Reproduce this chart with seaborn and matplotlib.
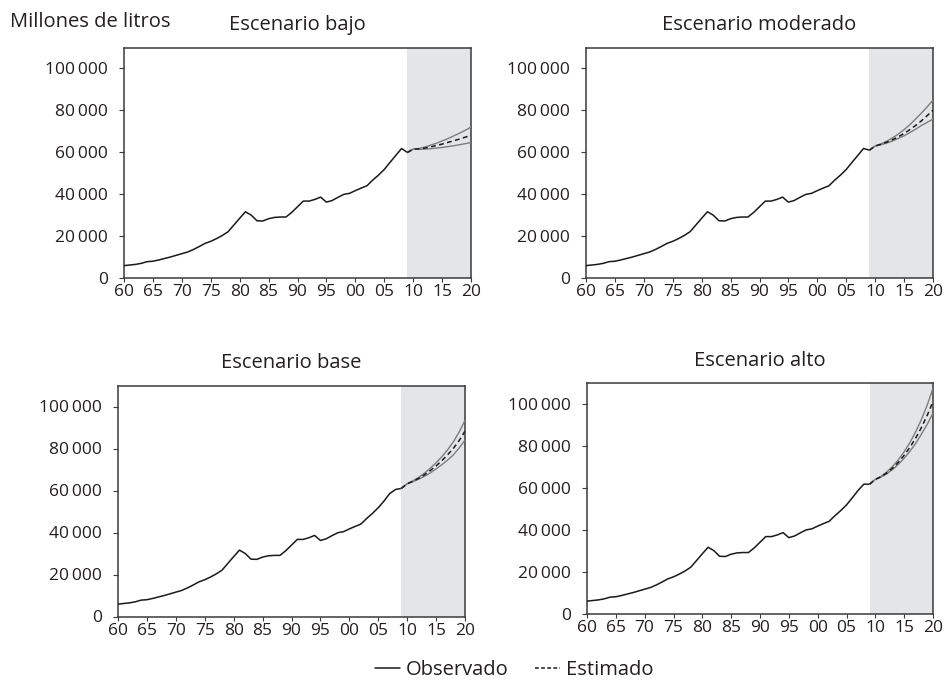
import numpy as np
import pandas as pd
import matplotlib
matplotlib.use("Agg")
import matplotlib.pyplot as plt
from matplotlib.lines import Line2D
import seaborn as sns

# ---------------- data ----------------
years_obs = list(range(1960, 2006))
observado = [5900, 6200, 6500, 7000, 7800, 8000, 8600, 9300, 10000, 10800,
             11600, 12400, 13600, 15000, 16500, 17500, 18800, 20300, 22100, 25300,
             28500, 31600, 30000, 27300, 27200, 28300, 28900, 29100, 29100, 31300,
             34000, 36700, 36700, 37500, 38600, 36200, 37000, 38500, 39900, 40400,
             41700, 42900, 44000, 46700, 49100, 51800]
years_tail = [2006, 2007, 2008, 2009]
tail_bajo = [55200, 58500, 61800, 59900]
tail_moderado = [55200, 58500, 61800, 61000]
tail_base = [55000, 58600, 60500, 61000]
tail_alto = [55200, 58700, 61700, 61700]

years_proj = list(range(2010, 2021))
bajo_sup = [61500, 61800, 62500, 63400, 64300, 65400, 66500, 67800, 69100, 70500, 72000]
bajo_med = [61500, 61600, 62000, 62600, 63200, 63900, 64700, 65500, 66300, 67200, 68100]
bajo_inf = [61500, 61400, 61500, 61700, 62000, 62300, 62700, 63100, 63600, 64100, 64700]

moderado_sup = [63000, 64000, 65300, 66900, 68700, 70800, 73200, 75900, 78700, 81700, 84900]
moderado_med = [63000, 63800, 64800, 66000, 67400, 69000, 70800, 72800, 75000, 77500, 80100]
moderado_inf = [63000, 63600, 64400, 65400, 66600, 67900, 69400, 71000, 72800, 74300, 75800]

base_sup = [63200, 64600, 66300, 68300, 70600, 73200, 76100, 79400, 83200, 87900, 93400]
base_med = [63200, 64400, 65800, 67500, 69500, 71700, 74200, 77000, 80100, 83800, 88300]
base_inf = [63200, 64200, 65400, 66800, 68400, 70300, 72300, 74500, 77000, 80300, 84000]

alto_sup = [64000, 65500, 67600, 70200, 73400, 77200, 81600, 86700, 92600, 99500, 107500]
alto_med = [64000, 65300, 67100, 69400, 72200, 75500, 79300, 83700, 88800, 94600, 101100]
alto_inf = [64000, 65100, 66700, 68700, 71200, 74100, 77400, 81200, 85600, 90300, 95600]

titles = ["Escenario bajo", "Escenario moderado", "Escenario base", "Escenario alto"]
xticks = list(range(1960, 2021, 5))
xticklabels = ["60", "65", "70", "75", "80", "85", "90", "95", "00", "05", "10", "15", "20"]
yticks = [0, 20000, 40000, 60000, 80000, 100000]
yticklabels = ["0", "20\u2009000", "40\u2009000", "60\u2009000", "80\u2009000", "100\u2009000"]

# ---------------- style ----------------
sns.set_style("white")
plt.rcParams["font.family"] = ["Open Sans", "DejaVu Sans"]
plt.rcParams["axes.edgecolor"] = "#3a3a3a"
plt.rcParams["text.color"] = "#231f20"
plt.rcParams["xtick.color"] = "#3a3a3a"
plt.rcParams["ytick.color"] = "#3a3a3a"
plt.rcParams["xtick.labelcolor"] = "#231f20"
plt.rcParams["ytick.labelcolor"] = "#231f20"

W, H = 946, 683
fig = plt.figure(figsize=(W / 100, H / 100), dpi=100)

# pixel boxes: left, right, top, bottom
boxes = [(124, 471, 47.5, 278),
         (586, 933, 47.5, 278),
         (118, 465, 385.5, 616.5),
         (587, 933, 383, 613.5)]
tails = [tail_bajo, tail_moderado, tail_base, tail_alto]
projs = [(bajo_sup, bajo_med, bajo_inf), (moderado_sup, moderado_med, moderado_inf),
         (base_sup, base_med, base_inf), (alto_sup, alto_med, alto_inf)]

for i, (l, r, t, b) in enumerate(boxes):
    ax = fig.add_axes([l / W, 1 - b / H, (r - l) / W, (b - t) / H])
    ax.axvspan(2009, 2020, color="#e4e5e6", lw=0, zorder=0)
    obs_df = pd.DataFrame({"year": years_obs + years_tail,
                           "val": observado + tails[i]})
    sns.lineplot(data=obs_df, x="year", y="val", ax=ax, color="#1a1a1a", lw=1.1, zorder=3)
    sup, med, inf = projs[i]
    yrs = [2009] + years_proj
    for series, col, ls, lw in [(sup, "#7d7d7d", "-", 1.0), (inf, "#7d7d7d", "-", 1.0),
                                (med, "#1a1a1a", (0, (3.2, 2.2)), 1.1)]:
        df = pd.DataFrame({"year": yrs, "val": [tails[i][-1]] + series})
        sns.lineplot(data=df, x="year", y="val", ax=ax, color=col, lw=lw,
                     linestyle=ls, zorder=3)
    ax.set_xlim(1960, 2020)
    ax.set_ylim(0, 110000)
    ax.set_xticks(xticks)
    ax.set_xticklabels(xticklabels, fontsize=12.5)
    ax.set_yticks(yticks)
    ax.set_yticklabels(yticklabels, fontsize=12.5)
    ax.tick_params(axis="x", direction="out", length=3, width=0.8, pad=1.5, bottom=True)
    ax.tick_params(axis="y", direction="out", length=3.5, width=0.8, pad=8, left=True)
    ax.set_xlabel("")
    ax.set_ylabel("")
    for sp in ax.spines.values():
        sp.set_linewidth(1.1)
    ax.set_title(titles[i], fontsize=14.5, pad=12.5)

fig.text(10 / W, 1 - 22 / H, "Millones de litros", fontsize=14.5, ha="left", va="center")

handles = [Line2D([], [], color="#1a1a1a", lw=1.1),
           Line2D([], [], color="#1a1a1a", lw=1.1, linestyle=(0, (2.5, 1.5)))]
fig.legend(handles, ["Observado", "Estimado"], loc="center",
           bbox_to_anchor=(514 / W, 1 - 670 / H), ncol=2, frameon=False,
           fontsize=14.5, handlelength=1.25, handletextpad=0.3, columnspacing=1.3,
           borderpad=0.1)

fig.savefig("out.png", dpi=100)
